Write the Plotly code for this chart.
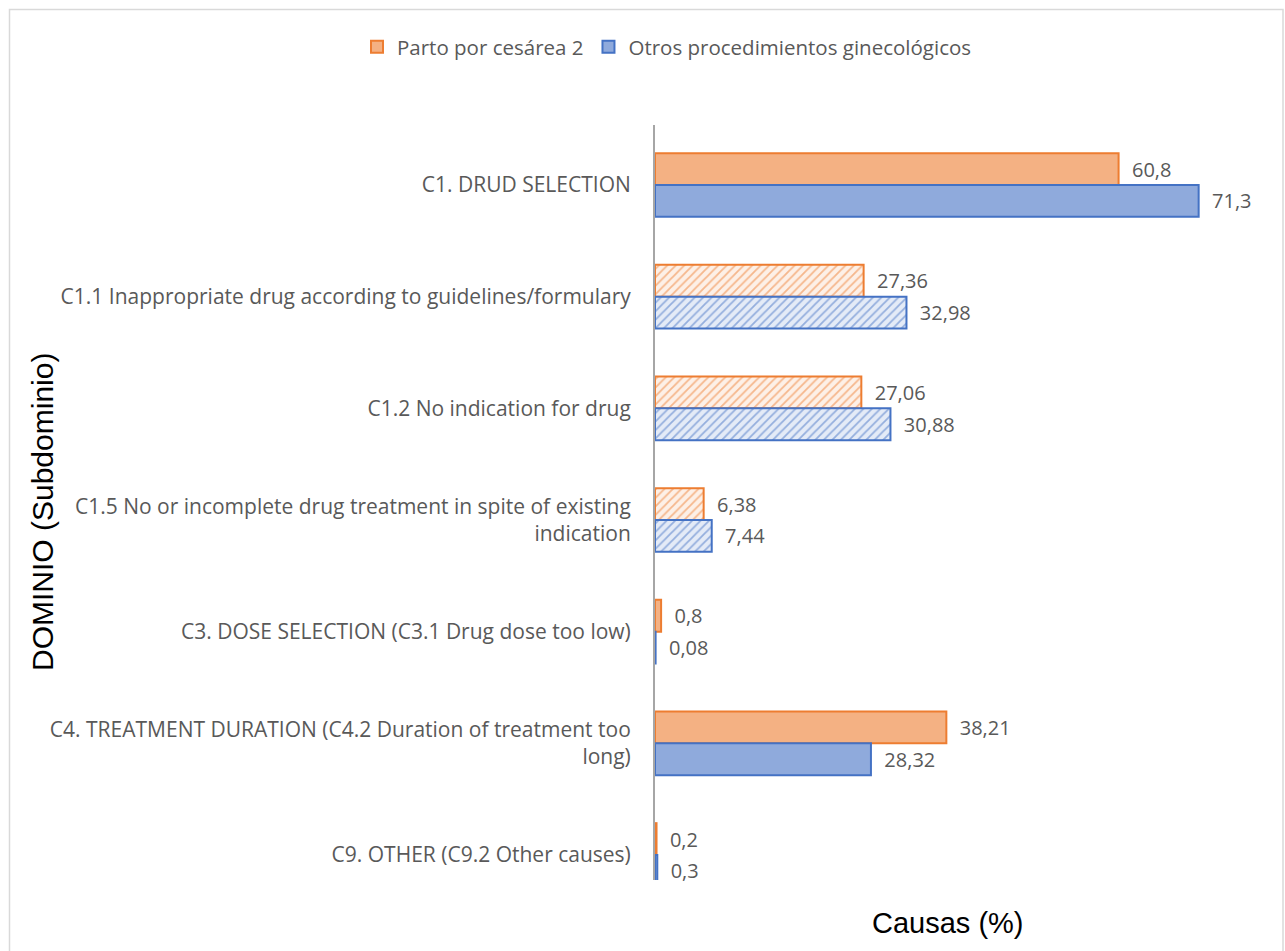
import plotly.graph_objects as go

categories = [
    "C1. DRUD SELECTION",
    "C1.1 Inappropriate drug according to guidelines/formulary",
    "C1.2 No indication for drug",
    "C1.5 No or incomplete drug treatment in spite of existing<br>indication",
    "C3. DOSE SELECTION (C3.1 Drug dose too low)",
    "C4. TREATMENT DURATION (C4.2 Duration of treatment too<br>long)",
    "C9. OTHER (C9.2 Other causes)",
]
parto = [60.8, 27.36, 27.06, 6.38, 0.8, 38.21, 0.2]
otros = [71.3, 32.98, 30.88, 7.44, 0.08, 28.32, 0.3]
patterns = ["", "/", "/", "/", "", "", ""]

def fmt(v):
    return "  " + f"{v:g}".replace(".", ",")

W, H = 1285, 951
L, R, T, B = 655, 20, 125, 71
FONT = "Open Sans"
GRAY = "#595959"

fig = go.Figure()
fig.add_trace(go.Bar(
    y=categories, x=parto, orientation="h", name="Parto por cesárea 2",
    marker=dict(color="#F4B183", line=dict(color="#ED7D31", width=2),
                pattern=dict(shape=patterns, fgcolor="#ED7D31", bgcolor="#FDF0E7",
                             size=6, solidity=0.3)),
    text=[fmt(v) for v in parto], textposition="outside", cliponaxis=False,
    textfont=dict(family=FONT, size=20, color=GRAY),
))
fig.add_trace(go.Bar(
    y=categories, x=otros, orientation="h", name="Otros procedimientos ginecológicos",
    marker=dict(color="#8FAADC", line=dict(color="#4472C4", width=2),
                pattern=dict(shape=patterns, fgcolor="#4472C4", bgcolor="#E4EBF7",
                             size=6, solidity=0.3)),
    text=[fmt(v) for v in otros], textposition="outside", cliponaxis=False,
    textfont=dict(family=FONT, size=20, color=GRAY),
))

plot_w = W - L - R
plot_h = H - T - B

def px_x(p):
    return (p - L) / plot_w

def px_y(p):
    return 1 - (p - T) / plot_h

fig.update_layout(
    width=W, height=H,
    margin=dict(l=L, r=R, t=T, b=B),
    paper_bgcolor="white", plot_bgcolor="white",
    barmode="group", bargap=0.43, bargroupgap=0.0,
    font=dict(family=FONT, size=20, color=GRAY),
    showlegend=True,
    legend=dict(orientation="h", xref="paper", yref="paper",
                x=px_x(357), y=px_y(47), xanchor="left", yanchor="middle",
                font=dict(family=FONT, size=20.5, color=GRAY),
                traceorder="normal", itemwidth=30),
    xaxis=dict(range=[0, 80], visible=False),
    yaxis=dict(categoryorder="array", categoryarray=categories,
               autorange=False, range=[6.224, -0.537],
               showline=True, linecolor="#A6A6A6", linewidth=2,
               ticks="", ticklabelstandoff=18,
               tickfont=dict(family=FONT, size=21, color=GRAY),
               showgrid=False),
    annotations=[
        dict(text="DOMINIO (Subdominio)", xref="paper", yref="paper",
             x=px_x(42), y=px_y(512), textangle=-90, showarrow=False,
             xanchor="center", yanchor="middle",
             font=dict(family="Liberation Sans", size=30, color="#000000")),
        dict(text="Causas (%)", xref="paper", yref="paper",
             x=px_x(948), y=px_y(923), showarrow=False,
             xanchor="center", yanchor="middle",
             font=dict(family="Liberation Sans", size=29, color="#000000")),
    ],
    shapes=[
        dict(type="rect", xref="paper", yref="paper",
             x0=px_x(9.5), x1=px_x(1283), y0=px_y(9.5), y1=px_y(960),
             line=dict(color="#D9D9D9", width=1.5)),
    ],
)

fig.write_html("out.html")
